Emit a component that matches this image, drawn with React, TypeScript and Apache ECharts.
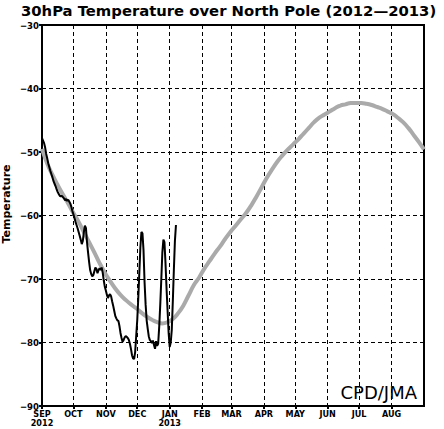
import React, { useEffect, useRef } from "react";
import * as echarts from "echarts";

const titleText = "30hPa Temperature over North Pole (2012\u20142013)";
const yTicks = [-90, -80, -70, -60, -50, -40, -30];
const monthDays = [0, 30, 61, 91, 122, 153, 181, 212, 242, 273, 303, 334];
const monthLabels = ["SEP\n2012", "OCT", "NOV", "DEC", "JAN\n2013", "FEB", "MAR", "APR", "MAY", "JUN", "JUL", "AUG"];

const obsDays = [
  0, 1, 2, 3, 4, 5, 6, 7, 8, 9, 10, 11, 12, 13, 14, 15, 16, 17, 18, 19, 20, 21, 22, 23, 24, 25, 26, 27, 28, 29,
  30, 31, 32, 33, 34, 35, 36, 37, 38, 39, 40, 41, 42, 43, 44, 45, 46, 47, 48, 49, 50, 51, 52, 53, 54, 55, 56, 57, 58, 59,
  60, 61, 62, 63, 64, 65, 66, 67, 68, 69, 70, 71, 72, 73, 74, 75, 76, 77, 78, 79, 80, 81, 82, 83, 84, 85, 86, 87, 88, 89,
  90, 91, 92, 93, 94, 95, 96, 97, 98, 99, 100, 101, 102, 103, 104, 105, 106, 107, 108, 109, 110, 111, 112, 113, 114, 115,
  116, 117, 118, 119, 120, 121, 122, 123, 124, 125, 126, 127, 128,
];
const obsValues = [
  -47.8, -48.2, -48.6, -49.3, -50.3, -51.0, -51.8, -52.4, -53.0, -53.5, -54.0, -54.6, -55.0, -55.4, -55.9, -56.3, -56.6, -56.9, -57.0, -56.9,
  -57.1, -57.3, -57.6, -57.4, -57.7, -57.5, -57.8, -58.1, -58.6, -59.3, -59.8, -60.4, -61.0, -61.5, -62.0, -62.6, -63.2, -63.8, -64.5, -64.0,
  -62.6, -61.6, -62.0, -64.2, -65.8, -67.3, -68.6, -69.2, -69.6, -69.4, -68.8, -68.2, -68.4, -69.1, -68.6, -68.3, -68.6, -68.2, -69.0, -70.2,
  -71.2, -71.8, -72.5, -73.0, -72.6, -72.4, -72.7, -73.5, -74.2, -75.0, -75.8, -76.2, -76.5, -76.6, -77.4, -78.5, -79.3, -79.9, -79.6, -79.2,
  -79.0, -79.1, -79.3, -79.6, -80.2, -81.0, -82.0, -82.5, -82.6, -81.5, -79.0, -76.5, -73.0, -69.0, -65.0, -62.6, -62.8, -65.5, -70.5, -74.0,
  -76.5, -77.8, -79.0, -79.6, -79.8, -80.1, -79.7, -80.4, -81.0, -79.8, -80.5, -80.2, -77.5, -74.0, -70.0, -65.8, -63.8, -64.2, -67.5, -71.5,
  -75.0, -78.5, -80.7, -80.0, -78.0, -73.5, -68.5, -64.0, -61.5,
];

const climDays = [
  0, 5, 10, 15, 20, 25, 30, 35, 40, 45, 50, 55, 60, 65, 70, 75, 80, 85, 90, 95, 100, 105, 110, 115, 120, 125, 130, 135, 140, 145,
  150, 155, 160, 165, 170, 175, 180, 185, 190, 195, 200, 205, 210, 215, 220, 225, 230, 235, 240, 245, 250, 255, 260, 265, 270, 275,
  280, 285, 290, 295, 300, 305, 310, 315, 320, 325, 330, 335, 340, 345, 350, 355, 360, 365,
];
const climValues = [
  -49.5, -51.8, -53.6, -55.2, -56.7, -58.1, -59.6, -61.0, -62.6, -64.2, -65.8, -67.5, -69.0, -70.3, -71.5, -72.5, -73.3, -74.0, -74.6, -75.3,
  -75.9, -76.4, -76.8, -77.0, -76.8, -76.3, -75.4, -74.2, -72.6, -71.0, -69.8, -68.4, -67.2, -66.0, -64.9, -63.7, -62.6, -61.6, -60.6, -59.6,
  -58.4, -57.0, -55.5, -54.0, -52.7, -51.5, -50.5, -49.6, -48.8, -48.0, -47.1, -46.2, -45.3, -44.6, -44.1, -43.6, -43.1, -42.7, -42.5, -42.3,
  -42.3, -42.3, -42.4, -42.6, -42.9, -43.2, -43.6, -44.0, -44.6, -45.3, -46.2, -47.3, -48.4, -49.6,
];

export default function App() {
  const ref = useRef<HTMLDivElement>(null);
  useEffect(() => {
    document.body.style.margin = "0";
    const chart = echarts.init(ref.current!, null, { renderer: "svg" });
    const labelMap: Record<number, string> = {};
    monthDays.forEach((d, i) => (labelMap[d] = monthLabels[i]));
    chart.setOption({
      animation: false,
      backgroundColor: "#ffffff",
      title: {
        text: titleText,
        left: 21,
        top: 0,
        padding: [2, 0, 0, 0],
        textStyle: { fontFamily: "DejaVu Sans", fontSize: 14.8, fontWeight: "bold", color: "#000", lineHeight: 16 },
      },
      grid: {
        left: 42,
        right: 20,
        top: 25,
        bottom: 23,
        show: true,
        borderColor: "#000",
        borderWidth: 2,
        backgroundColor: "transparent",
        containLabel: false,
        outerBoundsMode: "none",
      },
      xAxis: {
        type: "value",
        min: 0,
        max: 365,
        axisLine: { show: true, lineStyle: { color: "#000", width: 2 } },
        axisTick: { show: true, length: 3, customValues: monthDays, lineStyle: { color: "#000", width: 2 } },
        axisLabel: {
          customValues: monthDays,
          formatter: (v: number) => labelMap[v] ?? "",
          fontFamily: "DejaVu Sans Condensed",
          fontWeight: "bold",
          fontSize: 9,
          lineHeight: 9,
          color: "#000",
          margin: 3,
        },
        splitLine: { show: true, lineStyle: { color: "#000", width: 1, type: [4, 3] } },
      },
      yAxis: {
        type: "value",
        min: yTicks[0],
        max: yTicks[yTicks.length - 1],
        interval: 10,
        axisLine: { show: true, lineStyle: { color: "#000", width: 2 } },
        axisTick: { show: true, length: 3, lineStyle: { color: "#000", width: 2 } },
        axisLabel: {
          formatter: (v: number) => String(v).replace("-", "\u2212"),
          fontFamily: "DejaVu Sans Condensed",
          fontWeight: "bold",
          fontSize: 9.5,
          color: "#000",
          margin: 3,
        },
        splitLine: { show: true, lineStyle: { color: "#000", width: 1, type: [4, 3] } },
      },
      graphic: [
        {
          type: "text",
          rotation: Math.PI / 2,
          style: {
            text: "Temperature",
            fontFamily: "DejaVu Sans",
            fontWeight: "bold",
            fontSize: 11,
            fill: "#000",
            align: "center",
            verticalAlign: "middle",
          },
          x: 6,
          y: 204,
        },
        {
          type: "text",
          x: 417,
          y: 392,
          style: {
            text: "CPD/JMA",
            fontFamily: "DejaVu Sans",
            fontSize: 18,
            fill: "#000",
            align: "right",
            verticalAlign: "middle",
          },
        },
      ],
      series: [
        {
          type: "line",
          data: climDays.map((d, i) => [d, climValues[i]]),
          showSymbol: false,
          smooth: true,
          lineStyle: { color: "#aaaaaa", width: 4 },
          z: 2,
        },
        {
          type: "line",
          data: obsDays.map((d, i) => [d, obsValues[i]]),
          showSymbol: false,
          lineStyle: { color: "#000000", width: 2 },
          z: 3,
        },
      ],
    });
    return () => chart.dispose();
  }, []);
  return <div ref={ref} style={{ width: 444, height: 429 }} />;
}
